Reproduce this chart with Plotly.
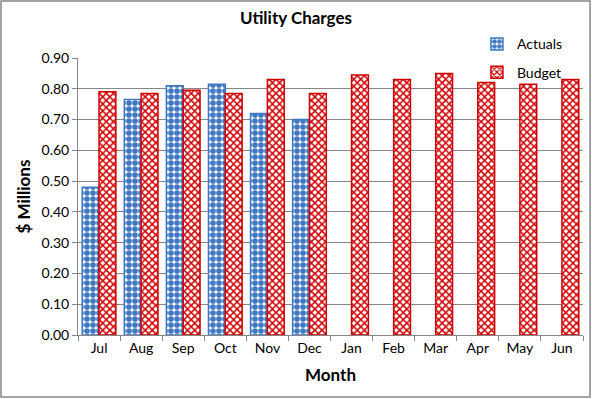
import plotly.graph_objects as go

months = ["Jul", "Aug", "Sep", "Oct", "Nov", "Dec", "Jan", "Feb", "Mar", "Apr", "May", "Jun"]
actuals = [0.48, 0.765, 0.81, 0.815, 0.72, 0.70, None, None, None, None, None, None]
budget = [0.79, 0.785, 0.795, 0.785, 0.83, 0.785, 0.845, 0.83, 0.85, 0.82, 0.815, 0.83]
y_ticks = [0.0, 0.1, 0.2, 0.3, 0.4, 0.5, 0.6, 0.7, 0.8, 0.9]

FONT = "Lato"
GRID = "#868686"
BLUE = "#3F78C0"
RED = "#D00000"

fig = go.Figure()
fig.add_trace(go.Bar(
    x=months, y=actuals, name="Actuals", legendgroup="a",
    marker=dict(color="white", line=dict(color=BLUE, width=1.5),
                pattern=dict(shape=".", fgcolor=BLUE, bgcolor="white", fgopacity=1,
                             size=6, solidity=0.7)),
))
fig.add_trace(go.Bar(
    x=months, y=budget, name="Budget", legendgroup="b",
    marker=dict(color="white", line=dict(color=RED, width=1.5),
                pattern=dict(shape="x", fgcolor=RED, bgcolor="white", fgopacity=1,
                             size=5, solidity=0.5)),
))

fig.update_layout(
    width=592, height=399,
    margin=dict(l=78, r=9, t=58, b=64, autoexpand=False),
    paper_bgcolor="white", plot_bgcolor="white",
    font=dict(family=FONT, size=14, color="#000000"),
    title=dict(text="<b>Utility Charges</b>", x=0.5, xanchor="center",
               y=0.955, yanchor="middle", yref="container",
               font=dict(family=FONT, size=17)),
    barmode="group", bargap=0.2, bargroupgap=0.0,
    showlegend=True,
    legend=dict(x=0.79, y=1.107, xanchor="left", yanchor="top", bgcolor="rgba(0,0,0,0)",
                tracegroupgap=7, itemwidth=30, font=dict(family=FONT, size=14)),
    xaxis=dict(
        type="category", tickson="boundaries", ticks="outside", ticklen=5, tickcolor=GRID,
        showline=True, linecolor=GRID, linewidth=1, showgrid=False,
        title=dict(text="<b>Month</b>", font=dict(family=FONT, size=17), standoff=14),
        tickfont=dict(family=FONT, size=14),
    ),
    yaxis=dict(
        range=[0, 0.9], tickvals=y_ticks, tickformat=".2f",
        ticks="outside", ticklen=5, tickcolor=GRID,
        showline=True, linecolor=GRID, linewidth=1,
        showgrid=True, gridcolor=GRID, gridwidth=1, zeroline=False,
        title=dict(text="<b>$ Millions</b>", font=dict(family=FONT, size=17), standoff=6),
        tickfont=dict(family=FONT, size=14),
    ),
    shapes=[dict(type="rect", xref="paper", yref="paper",
                 x0=-0.1525, x1=1.0139, y0=-0.2238, y1=1.2058,
                 line=dict(color=GRID, width=1.5), layer="below")],
)

fig.write_html("out.html", config={"displayModeBar": False},
               post_script="document.body.style.margin='0px';document.body.style.padding='0px';")
